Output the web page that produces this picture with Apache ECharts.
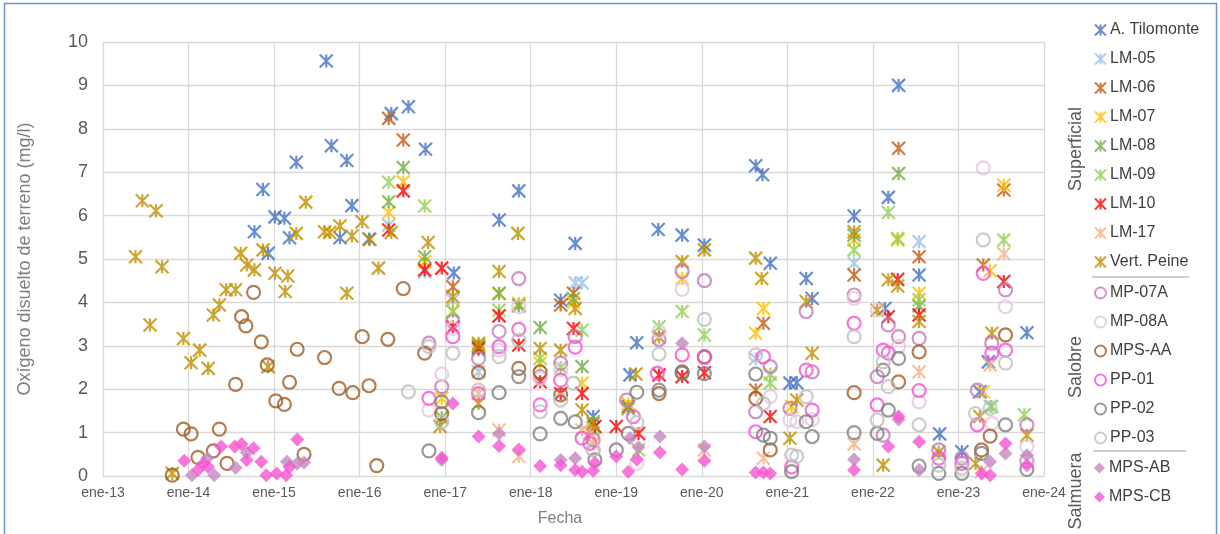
<!DOCTYPE html>
<html><head><meta charset="utf-8">
<script src="https://cdn.jsdelivr.net/npm/echarts@6/dist/echarts.min.js"></script>
<style>html,body{margin:0;padding:0;background:#fff}#c{width:1220px;height:534px}</style>
</head><body><div id="c"></div>
<script>
// ---- tick labels ----
const xTickLabels = ['ene-13','ene-14','ene-15','ene-16','ene-17','ene-18','ene-19','ene-20','ene-21','ene-22','ene-23','ene-24'];
const yTickValues = [0,1,2,3,4,5,6,7,8,9,10];

// ---- series data: [decimal year, mg/l] ----
const aTilomonte = [[2014.77,5.63],[2014.87,6.6],[2014.93,5.13],[2015.01,5.97],[2015.12,5.94],[2015.18,5.49],[2015.26,7.23],[2015.61,9.56],[2015.67,7.61],[2015.77,5.49],[2015.85,7.27],[2015.91,6.23],[2016.11,5.46],[2016.37,8.35],[2016.57,8.51],[2016.77,7.53],[2017.10,4.68],[2017.63,5.9],[2017.86,6.57],[2018.35,4.05],[2018.52,5.36],[2018.73,1.37],[2019.16,2.33],[2019.24,3.07],[2019.49,5.68],[2019.77,5.55],[2020.03,5.32],[2020.63,7.15],[2020.71,6.94],[2020.80,4.9],[2021.03,2.14],[2021.11,2.15],[2021.22,4.55],[2021.29,4.09],[2021.78,5.99],[2022.14,3.86],[2022.18,6.42],[2022.30,9.0],[2022.54,4.63],[2022.78,0.97],[2023.04,0.56],[2023.25,1.94],[2023.35,2.63],[2023.80,3.3]];
const lm05 = [[2016.34,5.78],[2016.76,4.7],[2017.09,4.05],[2017.39,2.4],[2017.86,3.95],[2018.52,4.45],[2018.60,4.45],[2019.14,1.6],[2020.63,2.7],[2021.78,4.9],[2022.54,5.4],[2023.37,1.6]];
const lm06 = [[2016.34,8.24],[2016.51,7.74],[2017.09,4.36],[2017.39,3.0],[2018.35,3.94],[2018.50,4.21],[2019.14,1.6],[2020.72,3.52],[2020.63,1.98],[2021.78,4.63],[2022.30,7.55],[2022.54,5.05],[2023.29,4.86],[2023.53,6.59]];
const lm07 = [[2016.34,6.07],[2016.51,6.78],[2016.76,4.94],[2016.96,1.79],[2017.09,3.8],[2017.39,3.0],[2017.63,4.2],[2017.86,3.98],[2018.11,2.6],[2018.50,4.0],[2018.60,2.14],[2018.73,0.75],[2019.14,1.67],[2019.77,4.55],[2020.72,3.86],[2020.63,3.29],[2021.05,1.6],[2021.78,5.44],[2022.29,5.44],[2022.54,4.21],[2023.37,4.73],[2023.53,6.7],[2023.29,1.94]];
const lm08 = [[2016.34,6.32],[2016.51,7.11],[2016.76,5.05],[2016.96,1.35],[2017.39,2.98],[2017.63,4.21],[2017.86,3.92],[2018.11,3.42],[2018.50,4.09],[2018.60,2.52],[2018.73,1.25],[2019.14,1.55],[2021.78,5.55],[2022.30,6.97],[2022.54,3.92]];
const lm09 = [[2016.34,6.77],[2016.76,6.22],[2017.09,3.79],[2017.39,2.9],[2017.63,3.82],[2018.11,2.71],[2018.35,2.5],[2018.60,3.36],[2018.73,1.1],[2019.26,0.6],[2019.50,3.44],[2019.77,3.79],[2020.03,3.25],[2020.80,2.14],[2020.80,2.35],[2021.78,5.21],[2022.18,6.07],[2022.29,5.47],[2022.54,4.06],[2023.39,1.6],[2023.53,5.44],[2023.77,1.41]];
const lm10 = [[2016.34,5.67],[2016.51,6.57],[2016.76,4.75],[2016.96,4.79],[2017.09,3.44],[2017.39,2.94],[2017.63,3.69],[2017.86,3.02],[2018.11,2.17],[2018.35,1.9],[2018.50,3.4],[2018.60,1.9],[2018.75,1.14],[2019.00,1.14],[2019.26,0.98],[2019.50,2.33],[2019.77,2.29],[2020.03,2.38],[2020.80,1.37],[2022.18,3.67],[2022.29,4.53],[2022.54,3.71],[2023.53,4.48]];
const lm17 = [[2017.39,1.9],[2017.63,1.06],[2017.86,0.45],[2018.60,1.06],[2018.69,1.0],[2020.03,0.6],[2020.72,0.41],[2021.78,0.74],[2022.54,2.4],[2023.27,0.1],[2023.37,2.56],[2023.53,5.12]];
const vertPeine = [[2013.38,5.05],[2013.46,6.34],[2013.55,3.48],[2013.62,6.11],[2013.69,4.82],[2013.81,0.06],[2013.94,3.17],[2014.03,2.61],[2014.13,2.9],[2014.23,2.48],[2014.29,3.71],[2014.36,3.94],[2014.44,4.29],[2014.55,4.29],[2014.61,5.13],[2014.68,4.86],[2014.77,4.75],[2014.87,5.21],[2014.93,2.52],[2015.01,4.67],[2015.13,4.25],[2015.16,4.61],[2015.26,5.59],[2015.37,6.31],[2015.59,5.63],[2015.65,5.61],[2015.77,5.76],[2015.85,4.21],[2015.91,5.53],[2016.03,5.86],[2016.12,5.45],[2016.22,4.79],[2016.37,5.61],[2016.80,5.38],[2016.94,1.14],[2017.09,4.13],[2017.39,3.06],[2017.39,1.67],[2017.63,4.71],[2017.85,5.59],[2018.11,2.94],[2018.35,2.9],[2018.52,3.86],[2018.60,1.52],[2018.73,1.2],[2019.23,2.35],[2019.50,3.2],[2019.77,4.94],[2020.03,5.21],[2020.63,5.02],[2020.70,4.55],[2021.03,0.87],[2021.11,1.75],[2021.22,4.02],[2021.29,2.83],[2021.78,5.63],[2022.05,3.82],[2022.12,0.25],[2022.18,4.52],[2022.29,4.38],[2022.54,3.56],[2022.77,0.55],[2023.20,0.29],[2023.25,1.37],[2023.39,3.29],[2023.80,0.94]];
const mp07a = [[2016.81,3.06],[2016.96,2.06],[2017.09,3.56],[2017.39,2.71],[2017.63,3.33],[2017.86,4.55],[2018.11,2.29],[2018.35,2.6],[2018.52,3.21],[2018.73,0.83],[2019.12,1.75],[2019.50,3.15],[2019.77,4.71],[2020.03,4.5],[2020.63,1.48],[2020.80,2.52],[2021.03,1.56],[2021.22,3.79],[2021.29,2.4],[2021.78,4.17],[2022.05,2.29],[2022.12,0.94],[2022.18,3.48],[2022.30,3.21],[2022.54,3.17],[2022.77,0.6],[2023.04,0.41],[2023.22,1.98],[2023.39,3.06],[2023.55,4.29],[2023.80,1.18]];
const mp08a = [[2016.96,2.35],[2016.81,1.52],[2017.09,3.4],[2017.63,2.9],[2017.86,3.9],[2018.11,2.25],[2018.35,2.45],[2018.73,0.6],[2019.24,0.29],[2019.50,3.33],[2019.77,4.3],[2020.80,1.83],[2021.03,1.29],[2021.11,1.25],[2021.29,1.3],[2021.78,4.09],[2022.05,3.82],[2022.30,2.98],[2022.54,1.71],[2023.29,7.1],[2023.39,1.21],[2023.55,3.9],[2023.80,0.68]];
const mpsAA = [[2013.81,0.02],[2013.94,1.08],[2014.03,0.97],[2014.11,0.43],[2014.29,0.58],[2014.36,1.08],[2014.45,0.29],[2014.55,2.11],[2014.62,3.67],[2014.67,3.46],[2014.76,4.23],[2014.85,3.09],[2014.92,2.56],[2015.02,1.73],[2015.12,1.65],[2015.18,2.16],[2015.27,2.92],[2015.35,0.5],[2015.59,2.73],[2015.76,2.02],[2015.92,1.92],[2016.03,3.21],[2016.11,2.08],[2016.20,0.24],[2016.33,3.15],[2016.51,4.32],[2016.76,2.83],[2016.96,1.44],[2017.39,2.38],[2017.86,2.48],[2018.11,2.4],[2018.35,1.87],[2019.50,1.9],[2019.77,2.4],[2020.03,2.75],[2020.63,1.79],[2020.80,0.6],[2021.78,1.92],[2022.30,2.17],[2022.54,2.86],[2023.27,0.6],[2023.37,0.92],[2023.55,3.25]];
const pp01 = [[2016.81,1.79],[2017.09,3.21],[2017.39,1.9],[2017.63,2.98],[2017.86,3.38],[2018.11,1.64],[2018.35,2.21],[2018.52,2.97],[2018.60,0.87],[2018.69,0.75],[2019.20,1.37],[2019.48,2.37],[2019.77,2.79],[2020.03,2.73],[2020.63,1.02],[2020.72,2.75],[2021.05,0.21],[2021.22,2.44],[2021.29,1.52],[2021.78,3.52],[2022.05,1.64],[2022.12,2.9],[2022.18,2.83],[2022.54,1.97],[2022.77,0.41],[2023.04,0.29],[2023.22,1.18],[2023.29,4.67],[2023.39,2.83],[2023.55,2.9],[2023.80,0.35]];
const pp02 = [[2016.81,0.58],[2016.96,1.71],[2017.39,1.46],[2017.63,1.92],[2017.86,2.29],[2018.11,0.97],[2018.35,1.33],[2018.52,1.25],[2018.75,0.37],[2019.00,0.6],[2019.14,0.98],[2019.24,1.93],[2019.50,1.98],[2019.77,2.37],[2020.03,2.36],[2020.63,2.35],[2020.72,0.94],[2020.80,0.87],[2021.05,0.1],[2021.22,1.25],[2021.29,0.91],[2021.78,1.0],[2022.05,0.98],[2022.12,2.44],[2022.18,1.52],[2022.30,2.71],[2022.54,0.23],[2022.77,0.06],[2023.04,0.06],[2023.27,0.52],[2023.55,1.18],[2023.80,0.15]];
const pp03 = [[2016.57,1.94],[2016.81,2.98],[2016.96,1.25],[2017.09,2.83],[2017.39,1.98],[2017.63,2.75],[2017.86,3.13],[2018.11,1.48],[2018.35,1.75],[2018.50,2.14],[2018.73,0.6],[2019.24,1.23],[2019.50,2.81],[2020.03,3.61],[2020.63,2.79],[2020.72,1.67],[2021.05,0.48],[2021.11,0.45],[2021.22,1.83],[2021.78,3.21],[2022.12,2.63],[2022.18,2.06],[2022.05,1.29],[2022.54,1.18],[2022.77,0.25],[2023.04,0.18],[2023.20,1.44],[2023.29,5.44],[2023.37,1.56],[2023.55,2.6],[2023.80,0.35]];
const mpsAB = [[2014.04,0.02],[2014.22,0.41],[2014.30,0.02],[2014.55,0.19],[2014.68,0.54],[2015.15,0.33],[2015.27,0.29],[2015.35,0.31],[2016.96,0.37],[2017.63,0.98],[2018.35,0.37],[2018.52,0.41],[2019.16,0.87],[2019.26,0.66],[2019.51,0.91],[2019.77,3.06],[2020.03,0.68],[2021.78,0.38],[2022.30,1.3],[2022.54,0.14],[2023.37,0.33],[2023.55,0.52],[2023.80,0.48]];
const mpsCB = [[2013.95,0.35],[2014.11,0.14],[2014.17,0.28],[2014.23,0.21],[2014.38,0.68],[2014.54,0.68],[2014.62,0.74],[2014.68,0.37],[2014.76,0.64],[2014.85,0.33],[2014.91,0.02],[2015.03,0.06],[2015.14,0.02],[2015.18,0.21],[2015.27,0.84],[2016.96,0.42],[2017.09,1.67],[2017.39,0.91],[2017.63,0.69],[2017.86,0.61],[2018.11,0.23],[2018.35,0.25],[2018.52,0.14],[2018.60,0.1],[2018.75,0.3],[2018.73,0.12],[2019.00,0.45],[2019.14,0.1],[2019.24,0.38],[2019.51,0.54],[2019.77,0.15],[2020.03,0.35],[2020.63,0.08],[2020.72,0.08],[2020.80,0.06],[2021.78,0.14],[2022.18,0.68],[2022.30,1.37],[2022.54,0.79],[2023.27,0.06],[2023.37,0.02],[2023.55,0.75],[2023.80,0.25]];

// ---- styling ----
const STAR = 'path://M0,0L12,12M12,0L0,12M6,0L6,12';
const defs = [
  {name:'A. Tilomonte', data:aTilomonte, color:'#4472C4', kind:'star', g:0},
  {name:'LM-05', data:lm05, color:'#9DC3E6', kind:'star', g:0},
  {name:'LM-06', data:lm06, color:'#C55A11', kind:'star', g:0},
  {name:'LM-07', data:lm07, color:'#FFC000', kind:'star', g:0},
  {name:'LM-08', data:lm08, color:'#70AD47', kind:'star', g:0},
  {name:'LM-09', data:lm09, color:'#92D050', kind:'star', g:0},
  {name:'LM-10', data:lm10, color:'#FF0000', kind:'star', g:0},
  {name:'LM-17', data:lm17, color:'#F4B183', kind:'star', g:0},
  {name:'Vert. Peine', data:vertPeine, color:'#BF9000', kind:'star', g:0},
  {name:'MP-07A', data:mp07a, color:'#C27BB8', kind:'circle', g:1},
  {name:'MP-08A', data:mp08a, color:'#E6C3E1', kind:'circle', g:1},
  {name:'MPS-AA', data:mpsAA, color:'#9E5E28', kind:'circle', g:1},
  {name:'PP-01', data:pp01, color:'#F552D2', kind:'circle', g:1},
  {name:'PP-02', data:pp02, color:'#7F7F7F', kind:'circle', g:1},
  {name:'PP-03', data:pp03, color:'#BFBFBF', kind:'circle', g:1},
  {name:'MPS-AB', data:mpsAB, color:'#C487BE', kind:'diamond', g:2},
  {name:'MPS-CB', data:mpsCB, color:'#F556D2', kind:'diamond', g:2}
];

const series = defs.map(d => {
  const s = {name:d.name, type:'scatter', data:d.data, animation:false};
  if (d.kind === 'star') {
    s.symbol = STAR; s.symbolSize = 13;
    s.itemStyle = {color:d.color, borderColor:d.color, borderWidth:2.2};
  } else if (d.kind === 'circle') {
    s.symbol = 'circle'; s.symbolSize = 13;
    s.itemStyle = {color:'rgba(255,255,255,0)', borderColor:d.color, borderWidth:2.2};
  } else {
    s.symbol = 'diamond'; s.symbolSize = 14;
    s.itemStyle = {color:d.color, borderColor:d.color, borderWidth:0};
  }
  return s;
});

const FONT = "'Liberation Sans', Arial, sans-serif";
const legendTops = [17, 280, 455];
const legends = [0,1,2].map(g => ({
  orient:'vertical', left:1089, top:legendTops[g],
  itemWidth:11, itemHeight:11, itemGap:13,
  textStyle:{fontFamily:FONT, fontSize:16, color:'#404040', lineHeight:16, padding:[0,0,0,-1]},
  data: defs.filter(d => d.g === g).map(d => {
    const it = {name:d.name};
    if (d.kind === 'circle') it.itemStyle = {color:'rgba(255,255,255,0)', borderColor:d.color, borderWidth:2};
    return it;
  })
}));

const chart = echarts.init(document.getElementById('c'), null, {renderer:'canvas'});
chart.setOption({
  animation:false,
  backgroundColor:'#fff',
  grid:{left:103, right:176, top:42, bottom:58},
  xAxis:{type:'value', min:2013, max:2024, interval:1,
    axisLine:{show:true, lineStyle:{color:'#d9d9d9', width:1}}, axisTick:{show:false},
    splitLine:{show:true, lineStyle:{color:'#d9d9d9', width:1.3}},
    axisLabel:{fontFamily:FONT, fontSize:14, color:'#595959', margin:10,
      formatter: v => xTickLabels[Math.round(v - 2013)]}},
  yAxis:{type:'value', min:yTickValues[0], max:yTickValues[yTickValues.length-1], interval:1,
    axisLine:{show:false}, axisTick:{show:false},
    splitLine:{show:true, lineStyle:{color:'#d9d9d9', width:1.3}},
    axisLabel:{fontFamily:FONT, fontSize:18, color:'#595959', margin:15}},
  legend: legends,
  series: series,
  graphic:[
    {type:'rect', shape:{x:4.5, y:3.5, width:1212, height:560}, style:{fill:'none', stroke:'#6C93D0', lineWidth:1.5}, silent:true},
    {type:'text', x:25, y:259, rotation:Math.PI/2, style:{text:'Oxígeno disuelto de terreno (mg/l)', font:"18px 'Liberation Sans', Arial", fill:'#7F7F7F', align:'center', verticalAlign:'middle'}},
    {type:'text', x:560, y:519, style:{text:'Fecha', font:"16px 'Liberation Sans', Arial", fill:'#7F7F7F', align:'center', verticalAlign:'middle'}},
    {type:'text', x:1076, y:149, rotation:Math.PI/2, style:{text:'Superficial', font:"18px 'Liberation Sans', Arial", fill:'#595959', align:'center', verticalAlign:'middle'}},
    {type:'text', x:1076, y:367, rotation:Math.PI/2, style:{text:'Salobre', font:"18px 'Liberation Sans', Arial", fill:'#595959', align:'center', verticalAlign:'middle'}},
    {type:'text', x:1076, y:491, rotation:Math.PI/2, style:{text:'Salmuera', font:"18px 'Liberation Sans', Arial", fill:'#595959', align:'center', verticalAlign:'middle'}},
    {type:'line', shape:{x1:1092, y1:277, x2:1189, y2:277}, style:{stroke:'#BFBFBF', lineWidth:1.5}},
    {type:'line', shape:{x1:1093, y1:451, x2:1186, y2:451}, style:{stroke:'#BFBFBF', lineWidth:1.5}}
  ]
});
</script></body></html>
